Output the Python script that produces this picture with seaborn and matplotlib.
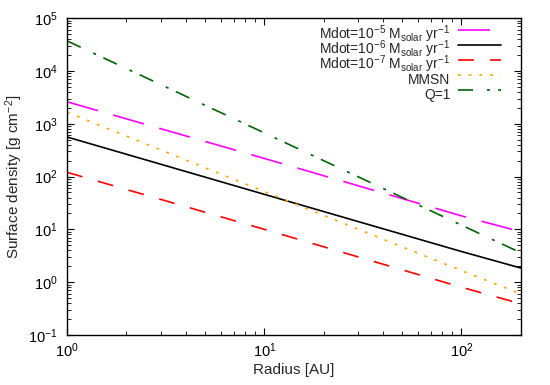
import numpy as np
import pandas as pd
import seaborn as sns
import matplotlib.pyplot as plt
from matplotlib.ticker import LogLocator, NullFormatter

# values (log-log straight lines)
radius = [1, 10, 100, 200]
mdot_1e5 = [2600, 220, 18, 9.0]
mdot_1e6 = [560, 46, 3.8, 1.85]
mdot_1e7 = [120, 10, 0.8, 0.39]
mmsn = [1650, 52, 1.65, 0.6]
q_one = [37000, 670, 12, 3.6]

labels = [
    r"Mdot=10$^{-5}$ M$_{solar}$ yr$^{-1}$",
    r"Mdot=10$^{-6}$ M$_{solar}$ yr$^{-1}$",
    r"Mdot=10$^{-7}$ M$_{solar}$ yr$^{-1}$",
    "MMSN",
    "Q=1",
]
series = [mdot_1e5, mdot_1e6, mdot_1e7, mmsn, q_one]
colors = ["#ff00ff", "#000000", "#ff0000", "#ffa500", "#006400"]
dashes = [(23, 11.5), None, (11.5, 11.5), (2, 5.7), (10.8, 10, 2.2, 5.8)]

sns.set_style("ticks")
plt.rcParams['font.family'] = ['Liberation Sans', 'DejaVu Sans']
plt.rcParams['mathtext.default'] = 'regular'
plt.rcParams['lines.scale_dashes'] = False

fig = plt.figure(figsize=(5.5, 3.85), dpi=100)
ax = fig.add_axes([0.122, 0.130, 0.825, 0.823])

for vals, lab, col, ds in zip(series, labels, colors, dashes):
    df = pd.DataFrame({"r": radius, "sigma": vals})
    sns.lineplot(data=df, x="r", y="sigma", ax=ax, color=col, label=lab, linewidth=1.2)
    if ds is not None:
        ax.get_lines()[-1].set_dashes(ds)

ax.set_xscale("log")
ax.set_yscale("log")
ax.set_xlim(1, 200)
ax.set_ylim(0.1, 1e5)

ax.xaxis.set_major_locator(LogLocator(base=10, numticks=10))
ax.xaxis.set_minor_locator(LogLocator(base=10, subs=np.arange(2, 10), numticks=20))
ax.yaxis.set_major_locator(LogLocator(base=10, numticks=10))
ax.yaxis.set_minor_locator(LogLocator(base=10, subs=np.arange(2, 10), numticks=20))
ax.xaxis.set_minor_formatter(NullFormatter())
ax.yaxis.set_minor_formatter(NullFormatter())

ax.tick_params(which="both", direction="in", top=True, right=True, labelsize=10.5, colors="black")
ax.tick_params(which="major", length=5, width=0.8)
ax.tick_params(which="minor", length=3, width=0.6)
ax.tick_params(axis="x", which="major", pad=5)
ax.tick_params(axis="y", which="major", pad=7)
for sp in ax.spines.values():
    sp.set_linewidth(1.0)
    sp.set_color("black")

ax.set_xlabel("Radius [AU]", fontsize=11, labelpad=2)
ax.set_ylabel(r"Surface density [g cm$^{-2}$]", fontsize=11, labelpad=2)

# tall handle boxes give equal rows, negative spacing packs them like the reference
leg = ax.legend(loc="upper right", markerfirst=False, frameon=False, fontsize=10,
                handlelength=3.1, handleheight=2.5, handletextpad=0.55,
                labelspacing=-0.79, borderaxespad=0.0, bbox_to_anchor=(0.969, 1.006))

fig.savefig("out.png", dpi=100)
